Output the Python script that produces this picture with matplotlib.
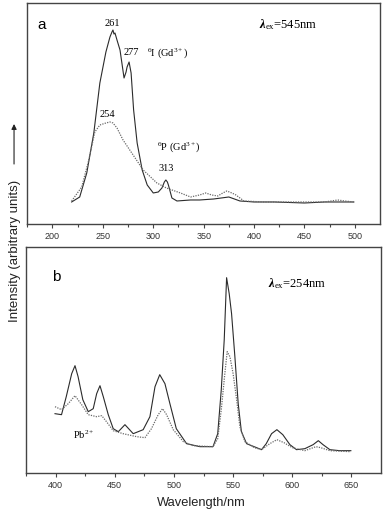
import matplotlib
matplotlib.use("Agg")
import matplotlib.pyplot as plt

plt.rcParams["font.family"] = "Liberation Sans"
plt.rcParams["mathtext.fontset"] = "custom"
plt.rcParams["mathtext.rm"] = "Liberation Serif"
plt.rcParams["mathtext.it"] = "Liberation Serif:italic"
plt.rcParams["mathtext.bf"] = "Liberation Serif:bold:italic"

# panel a: excitation spectra (em. 545 nm), heights
wl_a_solid = [219, 227, 234, 241, 247, 253, 257, 259, 260, 261, 262, 264, 267, 269, 271, 273,
              274, 276, 278, 280.5, 284, 289, 294, 300, 305, 308.6, 311, 312.5, 314, 315,
              318.5, 323.5, 337, 346, 360, 375, 386, 400, 420, 450, 470, 485, 499]
int_a_solid = [22, 27, 51, 91, 141, 172, 187, 192, 194, 190, 191, 184, 174, 160, 146, 152,
               157, 162, 151, 114, 81, 54, 39, 31, 32, 36, 42, 44, 42, 39,
               26, 23, 24, 24, 25, 27, 23, 22, 22, 21, 22, 22, 22]

wl_a_dot = [219, 229, 236, 242, 247, 253, 257, 260, 264, 270, 280, 290, 303.6, 313, 327,
            337, 346, 352, 358, 364, 369, 373, 378, 382, 390, 410, 440, 470, 483, 490, 499]
int_a_dot = [23, 37, 64, 92, 99, 101, 102, 101, 96, 84, 69, 54, 41, 36, 31,
             27, 29, 31, 29, 28, 31, 33, 31, 29, 23, 22, 22, 22, 24, 23, 22]

# panel b: emission spectra (ex. 254 nm)
wl_b_solid = [399.5, 405, 409, 413.6, 416.4, 419, 423, 427.6, 431.8, 434.7, 437.5, 440.3,
              444.5, 448.7, 453, 458.6, 465.6, 474, 479.7, 484, 488, 492.4, 496.6, 502,
              510.7, 522, 533, 537, 540, 542.5, 544.5, 546.7, 548.7, 551.5, 554.3, 557,
              561.4, 569.9, 574, 578, 582.5, 587, 592, 598, 603.6, 610.6, 617.6, 622,
              626, 631.8, 640, 649.5]
int_b_solid = [59, 58, 76, 99, 107, 96, 73, 61, 64, 79, 87, 76,
               58, 44, 41, 48, 39, 43, 56, 86, 98, 89, 69, 44,
               29, 26, 26, 39, 83, 133, 195, 179, 159, 116, 69, 41,
               29, 25, 23, 29, 39, 43, 38, 28, 23, 24, 28, 32,
               28, 23, 22, 22]

wl_b_dot = [399.5, 405, 410.7, 416.4, 422, 427.6, 434.7, 439, 443, 448.7, 457, 468.5,
            475.5, 481, 486.7, 490.4, 493.8, 499.4, 508, 516, 533, 537, 540, 543,
            545, 547.3, 550, 553, 555.7, 560, 568, 574, 581, 587, 593, 600, 610.6,
            620, 624, 631.8, 649.5]
int_b_dot = [66, 63, 69, 77, 68, 58, 56, 57, 51, 42, 39, 36,
             35, 44, 58, 64, 58, 43, 31, 27, 26, 34, 63, 99,
             121, 116, 99, 73, 46, 31, 25, 23, 29, 33, 30, 25, 22,
             26, 25, 22, 21]

xticks_a = [200, 250, 300, 350, 400, 450, 500]
xticks_b = [400, 450, 500, 550, 600, 650]

solid_color = "#2b2b2b"
dot_color = "#6a6a6a"
spine_color = "#444444"


def style_axes(ax, xlim, ylim, ticks):
    ax.set_xlim(*xlim)
    ax.set_ylim(*ylim)
    ax.set_xticks(ticks)
    ax.set_xticks([t + 25 for t in ticks[:-1]] + [ticks[0] - 25], minor=True)
    ax.set_yticks([])
    ax.tick_params(axis="x", which="major", direction="out", length=3, width=0.8,
                   colors=spine_color, labelsize=6.5, pad=3, labelcolor="#333333")
    ax.tick_params(axis="x", which="minor", direction="out", length=2, width=0.8,
                   colors=spine_color)
    for s in ax.spines.values():
        s.set_color(spine_color)
        s.set_linewidth(1.0)


fig = plt.figure(figsize=(3.9, 5.18), dpi=100)

ax_a = fig.add_axes([0.070, 0.5676, 0.9044, 0.4266])
ax_a.plot(wl_a_solid, int_a_solid, color=solid_color, lw=0.8)
ax_a.plot(wl_a_dot, int_a_dot, color=dot_color, lw=0.9, ls=(0, (1, 1)))
style_axes(ax_a, (175, 525), (0, 221), xticks_a)

ax_a.text(0.041, 0.90, "a", transform=ax_a.transAxes, fontsize=11, ha="center", va="center")
serif = "Liberation Serif"
ax_a.text(259.5, 201, "261", family=serif, fontsize=7.5, ha="center", va="center")
ax_a.text(277.8, 171, "277", family=serif, fontsize=7.5, ha="center", va="center")
ax_a.text(293.7, 171, r"$^6$I (Gd$^{3+}$)", family=serif, fontsize=7.5, ha="left", va="center")
ax_a.text(254.5, 109, "254", family=serif, fontsize=7.5, ha="center", va="center")
ax_a.text(303.6, 77, r"$^6$P (Gd$^{3+}$)", family=serif, fontsize=7.5, ha="left", va="center")
ax_a.text(312.6, 55, "313", family=serif, fontsize=7.5, ha="center", va="center")
ax_a.text(404.5, 199, r"$\mathbf{\lambda}_{\rm ex}$=545nm", family=serif, fontsize=9,
          ha="left", va="center")

ax_b = fig.add_axes([0.0667, 0.0875, 0.9103, 0.4357])
ax_b.plot(wl_b_solid, int_b_solid, color=solid_color, lw=0.8)
ax_b.plot(wl_b_dot, int_b_dot, color=dot_color, lw=0.9, ls=(0, (1, 1)))
style_axes(ax_b, (375, 675), (0, 225.7), xticks_b)

ax_b.text(0.085, 0.866, "b", transform=ax_b.transAxes, fontsize=11, ha="center", va="center")
ax_b.text(579.6, 189, r"$\mathbf{\lambda}_{\rm ex}$=254nm", family=serif, fontsize=9,
          ha="left", va="center")
ax_b.text(414.4, 38, r"Pb$^{2+}$", family=serif, fontsize=7.5, ha="left", va="center")

# shared labels
fig.text(0.0385, 0.516, "Intensity (arbitrary units)", rotation=90, fontsize=9.5,
         ha="center", va="center", color="#222222")
fig.text(0.517, 0.029, "Wavelength/nm", fontsize=9.3, ha="center", va="center",
         color="#222222")
fig.add_artist(matplotlib.patches.FancyArrowPatch(
    (0.036, 0.678), (0.036, 0.766), transform=fig.transFigure,
    arrowstyle="-|>,head_length=3,head_width=1.5", color="#222222", lw=0.8))

fig.savefig("out.png", dpi=100)
